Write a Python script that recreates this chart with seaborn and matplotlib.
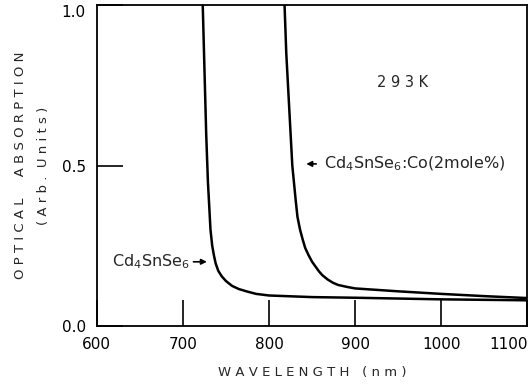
import numpy as np
import pandas as pd
import matplotlib
matplotlib.use("Agg")
import matplotlib.pyplot as plt
import seaborn as sns

# values
wl_pure = [723, 725, 727, 729, 732, 734, 736, 738, 741, 745, 750, 757, 765, 775, 785, 800, 850, 900, 1000, 1100]
abs_pure = [1.0, 0.8, 0.6, 0.45, 0.3, 0.25, 0.22, 0.195, 0.172, 0.155, 0.14, 0.125, 0.115, 0.107, 0.10, 0.095, 0.09, 0.088, 0.083, 0.08]

wl_co = [818, 820, 823, 827, 831, 833, 836, 839, 842, 846, 850, 854, 858, 862, 868, 874, 880, 890, 900, 950, 1000, 1050, 1100]
abs_co = [1.0, 0.85, 0.7, 0.5, 0.39, 0.34, 0.3, 0.27, 0.243, 0.22, 0.2, 0.185, 0.17, 0.158, 0.145, 0.135, 0.128, 0.122, 0.117, 0.108, 0.1, 0.093, 0.087]

xticks = [600, 700, 800, 900, 1000, 1100]
xtick_labels = ["600", "700", "800", "900", "1000", "1100"]
yticks = [0.0, 0.5, 1.0]
ytick_labels = ["0.0", "0.5", "1.0"]

df = pd.concat([
    pd.DataFrame({"wl": wl_pure, "a": abs_pure, "sample": "pure"}),
    pd.DataFrame({"wl": wl_co, "a": abs_co, "sample": "co"}),
])

sns.set_style("ticks")
plt.rcParams["font.family"] = ["DejaVu Sans"]

fig, ax = plt.subplots(figsize=(5.29, 3.89), dpi=100)
fig.subplots_adjust(left=0.183, right=0.997, top=0.987, bottom=0.162)

sns.lineplot(data=df, x="wl", y="a", units="sample", estimator=None,
             color="black", lw=1.8, sort=False, ax=ax)

ax.set_xlim(600, 1100)
ax.set_ylim(0, 1.0)
ax.set_xticks(xticks)
ax.set_xticklabels(xtick_labels)
ax.set_yticks(yticks)
ax.set_yticklabels(ytick_labels)
ax.tick_params(direction="in", length=19, width=1.2, colors="black",
               labelsize=11, pad=8)
ax.get_xticklabels()[-1].set_horizontalalignment("right")
ax.get_yticklabels()[-1].set_verticalalignment("top")
for s in ax.spines.values():
    s.set_linewidth(1.3)
    s.set_color("black")

ax.set_xlabel("W A V E L E N G T H   ( n m )", fontsize=9.5, labelpad=10)
ax.set_ylabel("O P T I C A L     A B S O R P T I O N\n( A r b .  U n i t s )",
              fontsize=9.5, labelpad=8, linespacing=2.0)

ax.text(955, 0.76, "2 9 3 K", fontsize=10.5, ha="center", va="center")
ax.annotate("", xy=(840, 0.505), xytext=(858, 0.505),
            arrowprops=dict(arrowstyle="-|>", color="black", lw=1.2, mutation_scale=8))
ax.text(864, 0.505, r"Cd$_4$SnSe$_6$:Co(2mole%)", fontsize=11.5, va="center")
ax.annotate("", xy=(731, 0.2), xytext=(709, 0.2),
            arrowprops=dict(arrowstyle="-|>", color="black", lw=1.2, mutation_scale=8))
ax.text(708, 0.2, r"Cd$_4$SnSe$_6$", fontsize=11.5, va="center", ha="right")

fig.savefig("out.png", dpi=100)
